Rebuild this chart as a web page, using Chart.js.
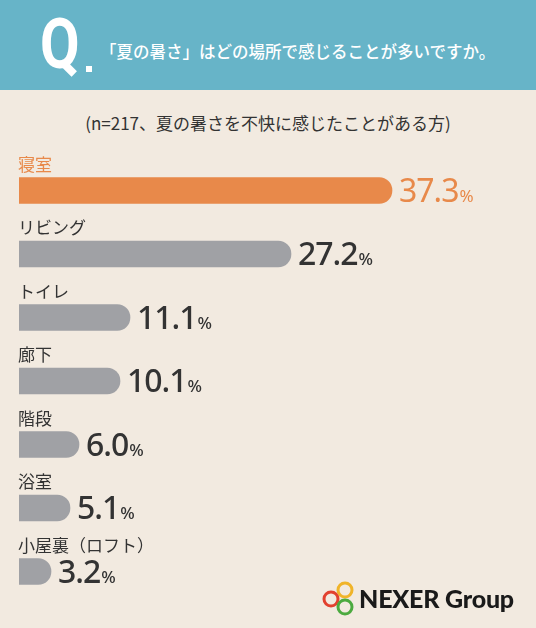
<!DOCTYPE html>
<html lang="ja">
<head>
<meta charset="utf-8">
<script src="https://cdn.jsdelivr.net/npm/chart.js@4"></script>
<style>
    html, body { margin: 0; padding: 0; }
    body {
        width: 536px; height: 628px; position: relative; overflow: hidden;
        background: #f2eae0;
        font-family: "Noto Sans CJK JP", "Noto Sans", sans-serif;
    }
    .band { position: absolute; left: 0; top: 0; width: 536px; height: 90px; background: #67b4c8; }
    .q {
        position: absolute; left: 40px; top: 4px; color: #fff;
        font-family: Roboto, sans-serif; font-weight: 700; font-size: 70px; line-height: 80px;
        transform: scaleX(0.82); transform-origin: left top;
    }
    .qdot { position: absolute; left: 86px; top: 66px; width: 6px; height: 6px; background: #fff; }
    .question {
        position: absolute; left: 100px; top: 38px; color: #fff;
        font-size: 16.5px; font-weight: 500; line-height: 26px; white-space: nowrap;
    }
    .sub {
        position: absolute; left: 0; width: 536px; top: 110px; text-align: center;
        color: #333; font-size: 17px; line-height: 26px;
    }
    #chart { position: absolute; left: 0; top: 0; }
    .logo { position: absolute; left: 320px; top: 580px; display: flex; align-items: center; }
    .logo span {
        font-family: Lato, sans-serif; font-weight: 900; font-size: 25px; color: #1a1a1a;
        margin-left: 5px; letter-spacing: -0.2px;
    }
</style>
</head>
<body>
<div class="band"></div>
<div class="q">Q</div>
<div class="qdot"></div>
<div class="question">「夏の暑さ」はどの場所で感じることが多いですか。</div>
<div class="sub">(n=217、夏の暑さを不快に感じたことがある方)</div>
<canvas id="chart" width="536" height="628"></canvas>
<div class="logo">
    <svg width="34" height="36" viewBox="0 0 34 36">
        <circle cx="25" cy="10" r="7" fill="none" stroke="#f0b429" stroke-width="3"/>
        <circle cx="11" cy="19" r="7" fill="none" stroke="#e2412f" stroke-width="3"/>
        <circle cx="25" cy="27" r="7" fill="none" stroke="#4caa3f" stroke-width="3"/>
    </svg>
    <span>NEXER Group</span>
</div>
<script>
document.addEventListener('DOMContentLoaded', function() {
    // --- DATA ---
    const categories = ['寝室', 'リビング', 'トイレ', '廊下', '階段', '浴室', '小屋裏（ロフト）'];
    const percents = [37.3, 27.2, 11.1, 10.1, 6.0, 5.1, 3.2];
    const axisMax = 50;

    const orange = '#e8894a';
    const gray = '#a0a1a5';
    const dark = '#333333';

    // labels above bars + value labels at bar ends
    const labelPlugin = {
        id: 'barLabels',
        afterDatasetsDraw(chart) {
            const ctx = chart.ctx;
            const meta = chart.getDatasetMeta(0);
            const left = chart.chartArea.left;
            ctx.save();
            meta.data.forEach((bar, i) => {
                const isTop = i === 0;
                const color = isTop ? orange : dark;

                ctx.fillStyle = color;
                ctx.textBaseline = 'middle';
                ctx.textAlign = 'left';
                ctx.letterSpacing = '0px';
                ctx.font = '17px "Noto Sans CJK JP", sans-serif';
                ctx.fillText(categories[i], left - 1, bar.y - 26);

                const num = percents[i].toFixed(1);
                const x0 = bar.x + 7;
                const baseY = bar.y + 11;
                ctx.textBaseline = 'alphabetic';
                ctx.letterSpacing = '-1px';
                ctx.font = (isTop ? '400' : '500') + ' 32px "Noto Sans", sans-serif';
                ctx.fillText(num, x0, baseY);
                const w = ctx.measureText(num).width;
                ctx.letterSpacing = '0px';
                ctx.font = (isTop ? '400' : '500') + ' 17px "Noto Sans", sans-serif';
                ctx.fillText('%', x0 + w + 1, baseY);
            });
            ctx.restore();
        }
    };

    new Chart(document.getElementById('chart'), {
        type: 'bar',
        data: {
            labels: categories,
            datasets: [{
                data: percents,
                backgroundColor: percents.map((v, i) => i === 0 ? orange : gray),
                borderRadius: 13,
                borderSkipped: 'start',
                barThickness: 26
            }]
        },
        options: {
            indexAxis: 'y',
            responsive: false,
            animation: false,
            layout: { padding: { left: 19, right: 17, top: 158.75, bottom: 24.75 } },
            plugins: { legend: { display: false }, tooltip: { enabled: false } },
            scales: {
                x: { display: false, min: 0, max: axisMax },
                y: { display: false }
            }
        },
        plugins: [labelPlugin]
    });
});
</script>
</body>
</html>
